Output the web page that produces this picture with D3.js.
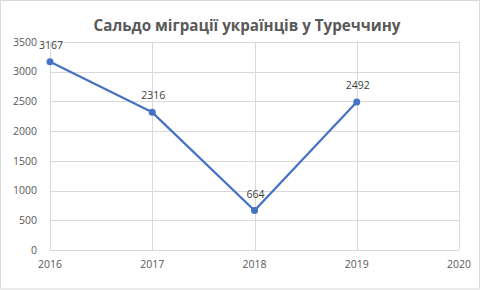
<!DOCTYPE html>
<html>
<head>
<meta charset="utf-8">
<script src="https://cdn.jsdelivr.net/npm/d3@7"></script>
<style>
  body { margin: 0; background: #fff; }
  text { font-family: "Open Sans", "Noto Sans", sans-serif; }
</style>
</head>
<body>
<svg width="481" height="290"></svg>
<script>
// chart data
var years = [2016, 2017, 2018, 2019];
var balance = [3167, 2316, 664, 2492];
var yTicks = [0, 500, 1000, 1500, 2000, 2500, 3000, 3500];
var xTicks = [2016, 2017, 2018, 2019, 2020];
var title = "Сальдо міграції українців у Туреччину";

var svg = d3.select("svg"),
    width = +svg.attr("width"),
    height = +svg.attr("height");

var margin = {left: 50, right: 22, top: 42, bottom: 40};

svg.append("rect")
    .attr("x", 0.5).attr("y", 0.5)
    .attr("width", width - 2).attr("height", height - 1.5)
    .attr("fill", "#fff")
    .attr("stroke", "#d9d9d9");

var x = d3.scaleLinear()
    .domain([2016, 2020])
    .range([margin.left, width - margin.right]);

var y = d3.scaleLinear()
    .domain([0, 3500])
    .range([height - margin.bottom, margin.top]);

// gridlines
svg.append("g").selectAll("line.h")
  .data(yTicks)
  .enter().append("line")
    .attr("x1", x(2016)).attr("x2", x(2020))
    .attr("y1", function(d) { return Math.round(y(d)) + 0.5; })
    .attr("y2", function(d) { return Math.round(y(d)) + 0.5; })
    .attr("stroke", "#d9d9d9");

svg.append("g").selectAll("line.v")
  .data(xTicks)
  .enter().append("line")
    .attr("x1", function(d) { return Math.round(x(d)) + 0.5; })
    .attr("x2", function(d) { return Math.round(x(d)) + 0.5; })
    .attr("y1", y(3500)).attr("y2", y(0))
    .attr("stroke", "#d9d9d9");

// axis labels
svg.append("g").selectAll("text")
  .data(yTicks)
  .enter().append("text")
    .attr("x", 37)
    .attr("y", function(d) { return y(d); })
    .attr("dy", "0.35em")
    .attr("text-anchor", "end")
    .attr("font-size", 10.5)
    .attr("fill", "#595959")
    .text(function(d) { return d; });

svg.append("g").selectAll("text")
  .data(xTicks)
  .enter().append("text")
    .attr("x", function(d) { return x(d); })
    .attr("y", y(0) + 18)
    .attr("text-anchor", "middle")
    .attr("font-size", 10.5)
    .attr("fill", "#595959")
    .text(function(d) { return d; });

// title
svg.append("text")
    .attr("x", 247)
    .attr("y", 31)
    .attr("text-anchor", "middle")
    .attr("font-size", 15.2)
    .attr("font-weight", "bold")
    .attr("fill", "#595959")
    .text(title);

// series
var points = years.map(function(d, i) { return {year: d, value: balance[i]}; });

var line = d3.line()
    .x(function(d) { return x(d.year); })
    .y(function(d) { return y(d.value); });

svg.append("path")
    .datum(points)
    .attr("d", line)
    .attr("fill", "none")
    .attr("stroke", "#4472c4")
    .attr("stroke-width", 2.25)
    .attr("stroke-linejoin", "round");

svg.append("g").selectAll("circle")
  .data(points)
  .enter().append("circle")
    .attr("cx", function(d) { return x(d.year); })
    .attr("cy", function(d) { return y(d.value); })
    .attr("r", 3.5)
    .attr("fill", "#4472c4");

svg.append("g").selectAll("text")
  .data(points)
  .enter().append("text")
    .attr("x", function(d) { return x(d.year) + 1; })
    .attr("y", function(d) { return y(d.value) - 13; })
    .attr("text-anchor", "middle")
    .attr("font-size", 10.5)
    .attr("fill", "#404040")
    .text(function(d) { return d.value; });
</script>
</body>
</html>
